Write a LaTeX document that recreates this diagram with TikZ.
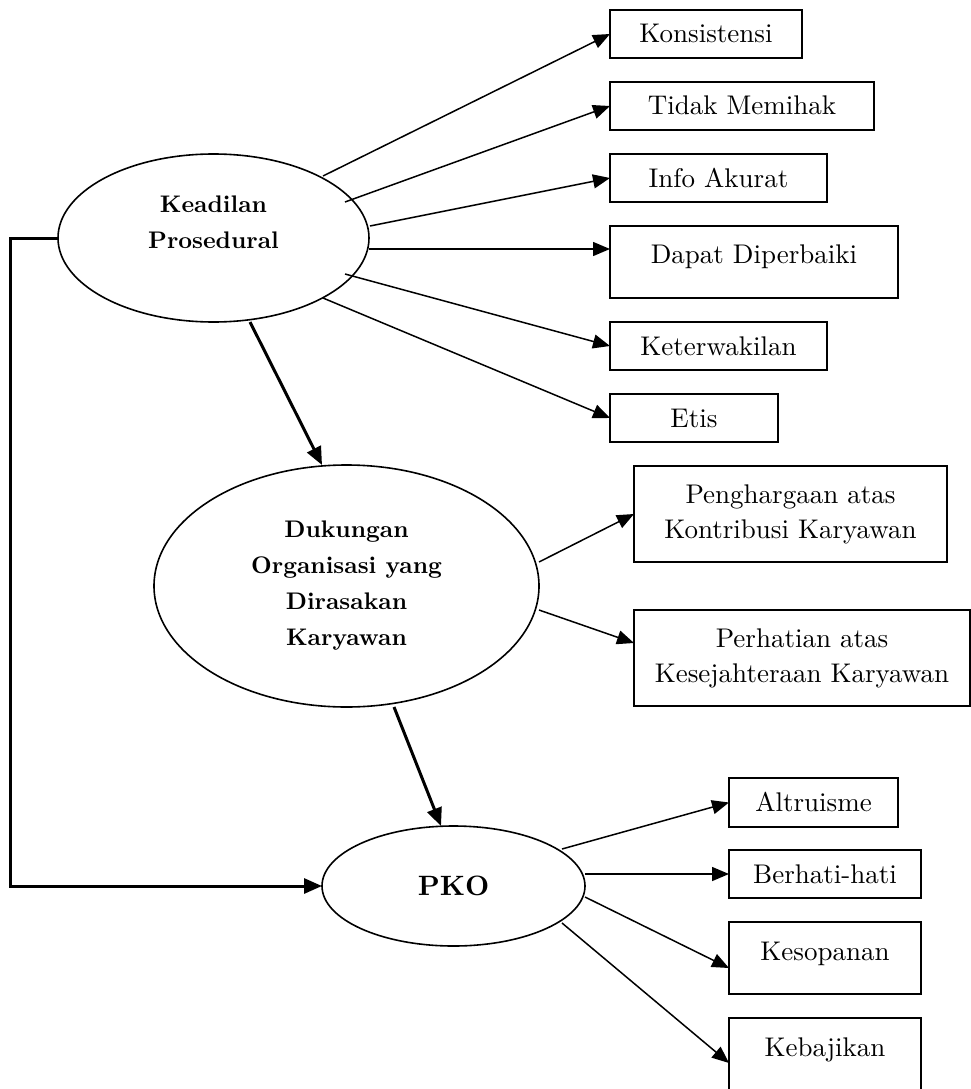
\documentclass[tikz,border=0pt]{standalone}
\usepackage{fontspec}
\setmainfont{lmroman10-regular.otf}[BoldFont=lmroman10-bold.otf,ItalicFont=lmroman10-italic.otf]
\usetikzlibrary{shapes.geometric,arrows.meta,calc}
\begin{document}
\begin{tikzpicture}[x=1pt,y=-1pt,
  box/.style={draw, line width=1.6pt, rectangle, inner sep=0pt, outer sep=0pt, anchor=north west, font=\fontsize{27}{35}\selectfont},
  one/.style={text height=33pt, text depth=15pt},
  oval/.style={draw, ellipse, line width=1.6pt, inner sep=0pt, outer sep=0pt},
  bold/.style={font=\fontsize{24}{36}\selectfont\bfseries, align=center},
  arrthin/.style={line width=1.5pt, -{Triangle[length=17pt,width=14pt]}},
  arrthick/.style={line width=3pt, -{Triangle[length=18pt,width=15pt]}},
]
\useasboundingbox (0,0) rectangle (971,1089);
\clip (0,0) rectangle (971,1089);

% boxes, top group
\node[box,one,minimum width=192pt] (k1) at (610,10) {Konsistensi};
\node[box,one,minimum width=264pt] (k2) at (610,82) {Tidak Memihak};
\node[box,one,minimum width=217pt] (k3) at (610,154) {Info Akurat};
\node[box,minimum width=288pt,text height=37pt,text depth=35pt] (k4) at (610,226) {Dapat Diperbaiki};
\node[box,one,minimum width=217pt] (k5) at (610,322) {Keterwakilan};
\node[box,one,minimum width=168pt] (k6) at (610,394) {Etis};

% boxes, middle group
\node[box,minimum width=313pt,minimum height=96pt,align=center] (p1) at (634,466) {Penghargaan atas\\Kontribusi Karyawan};
\node[box,minimum width=336pt,minimum height=96pt,align=center] (p2) at (634,610) {Perhatian atas\\Kesejahteraan Karyawan};

% boxes, bottom group
\node[box,minimum width=169pt,text height=33pt,text depth=16pt] (a1) at (729,778) {Altruisme};
\node[box,one,minimum width=192pt] (a2) at (729,850) {Berhati-hati};
\node[box,minimum width=192pt,text height=38pt,text depth=34pt] (a3) at (729,922) {Kesopanan};
\node[box,minimum width=192pt,text height=38pt,text depth=52pt] (a4) at (729,1018) {Kebajikan};

% ellipses
\node[oval,minimum width=311pt,minimum height=168pt] (kp) at (213.5,238) {};
\node[bold] (kpt) at (213.5,222.5) {Keadilan\\Prosedural};
\node[oval,bold,minimum width=385pt,minimum height=242pt] (dk) at (346.5,586) {Dukungan\\Organisasi yang\\Dirasakan\\Karyawan};
\node[oval,minimum width=263pt,minimum height=120pt,font=\fontsize{28}{34}\selectfont\bfseries] (pko) at (453.5,886) {PKO};

% connectors from Keadilan Prosedural
\draw[arrthin] ([shift={(109.5,-62)}]kp.center) -- (k1.west);
\draw[arrthin] ([shift={(131.5,-36)}]kp.center) -- (k2.west);
\draw[arrthin] ([shift={(156.5,-12)}]kp.center) -- (k3.west);
\draw[arrthin] ([shift={(155.5,11)}]kp.center) -- ([yshift=13pt]k4.west);
\draw[arrthin] ([shift={(131.5,36)}]kp.center) -- (k5.west);
\draw[arrthin] ([shift={(109.5,60)}]kp.center) -- (k6.west);

% connectors from Dukungan
\draw[arrthin] ([shift={(192.5,-24)}]dk.center) -- (p1.west);
\draw[arrthin] ([shift={(192.5,24)}]dk.center) -- ([yshift=15pt]p2.west);

% connectors from PKO
\draw[arrthin] ([shift={(108.5,-37)}]pko.center) -- (a1.west);
\draw[arrthin] ([shift={(131.5,-12)}]pko.center) -- (a2.west);
\draw[arrthin] ([shift={(131.5,11)}]pko.center) -- ([yshift=-10pt]a3.west);
\draw[arrthin] ([shift={(108.5,37)}]pko.center) -- (a4.west);

% thick connectors
\draw[arrthick] ([shift={(36.5,84)}]kp.center) -- ([xshift=-24.5pt]dk.north);
\draw[arrthick] ([shift={(47.5,121)}]dk.center) -- ([xshift=-12.5pt]pko.north);
\draw[arrthick] (kp.west) -- ++(-48,0) |- (pko.west);
\end{tikzpicture}
\end{document}
